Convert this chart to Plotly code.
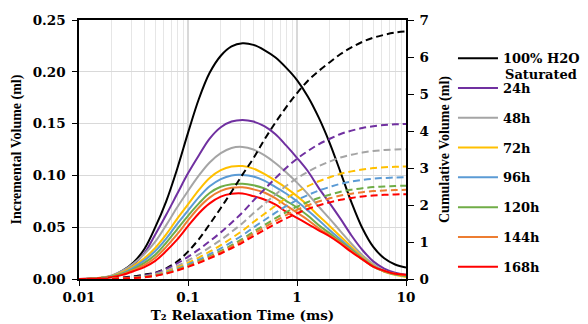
import plotly.graph_objects as go

# T2 relaxation time (ms)
t2 = [0.01, 0.0126, 0.0158, 0.02, 0.0251, 0.0316, 0.0398, 0.0501, 0.0631, 0.0794,
      0.1, 0.126, 0.158, 0.2, 0.251, 0.316, 0.398, 0.501, 0.631, 0.794,
      1, 1.26, 1.58, 2, 2.51, 3.16, 3.98, 5.01, 6.31, 7.94, 10]

names = ["100% H2O", "24h", "48h", "72h", "96h", "120h", "144h", "168h"]
colors = ["#000000", "#7030A0", "#A5A5A5", "#FFC000", "#5B9BD5", "#70AD47", "#ED7D31", "#FF0000"]

# Incremental volume (ml)
inc_sat = [0, 0.0003, 0.001, 0.003, 0.008, 0.016, 0.029, 0.050, 0.075, 0.106,
           0.141, 0.174, 0.199, 0.2155, 0.2245, 0.2275, 0.226, 0.221, 0.214, 0.204,
           0.192, 0.176, 0.156, 0.131, 0.103, 0.074, 0.049, 0.031, 0.020, 0.014, 0.011]
inc_24 = [0, 0.0002, 0.0008, 0.0025, 0.0065, 0.014, 0.025, 0.043, 0.062, 0.082,
          0.102, 0.1195, 0.1355, 0.1465, 0.152, 0.1535, 0.152, 0.1475, 0.140, 0.129,
          0.117, 0.104, 0.088, 0.073, 0.058, 0.042, 0.028, 0.017, 0.010, 0.006, 0.004]
inc_48 = [0, 0.0002, 0.0012, 0.0035, 0.008, 0.015, 0.024, 0.036, 0.052, 0.069,
          0.085, 0.100, 0.1125, 0.1215, 0.1265, 0.1275, 0.125, 0.1195, 0.112, 0.103,
          0.093, 0.082, 0.070, 0.058, 0.046, 0.034, 0.023, 0.0145, 0.008, 0.0045, 0.003]
inc_72 = [0, 0.0002, 0.0011, 0.003, 0.0065, 0.0125, 0.020, 0.030, 0.043, 0.058,
          0.072, 0.086, 0.0975, 0.105, 0.1085, 0.109, 0.1065, 0.1015, 0.095, 0.088,
          0.080, 0.071, 0.061, 0.051, 0.041, 0.031, 0.021, 0.013, 0.007, 0.004, 0.002]
inc_96 = [0, 0.0002, 0.001, 0.0026, 0.0057, 0.011, 0.018, 0.027, 0.039, 0.053,
          0.066, 0.079, 0.0895, 0.0965, 0.100, 0.1005, 0.099, 0.095, 0.089, 0.0825,
          0.075, 0.066, 0.057, 0.047, 0.038, 0.029, 0.020, 0.0125, 0.0075, 0.0045, 0.003]
inc_120 = [0, 0.0002, 0.0009, 0.0023, 0.005, 0.0095, 0.0155, 0.0235, 0.035, 0.048,
           0.061, 0.073, 0.083, 0.089, 0.0915, 0.092, 0.0905, 0.0875, 0.082, 0.0755,
           0.069, 0.061, 0.052, 0.044, 0.036, 0.028, 0.0195, 0.012, 0.0075, 0.0045, 0.003]
inc_144 = [0, 0.0002, 0.0008, 0.002, 0.0045, 0.0085, 0.0135, 0.0205, 0.031, 0.043,
           0.0565, 0.069, 0.0785, 0.085, 0.088, 0.0885, 0.0865, 0.0835, 0.078, 0.071,
           0.064, 0.057, 0.049, 0.042, 0.035, 0.027, 0.019, 0.012, 0.0075, 0.005, 0.0035]
inc_168 = [0, 0.0002, 0.0007, 0.0018, 0.004, 0.0075, 0.0115, 0.0175, 0.027, 0.038,
           0.051, 0.0635, 0.073, 0.0795, 0.0822, 0.0825, 0.080, 0.0768, 0.072, 0.065,
           0.059, 0.053, 0.047, 0.041, 0.034, 0.026, 0.019, 0.012, 0.008, 0.005, 0.004]

# Cumulative volume (ml)
cum_sat = [0, 0, 0.01, 0.02, 0.04, 0.07, 0.12, 0.17, 0.29, 0.47,
           0.74, 1.08, 1.48, 1.92, 2.36, 2.82, 3.26, 3.76, 4.22, 4.64,
           5.02, 5.36, 5.62, 5.86, 6.08, 6.26, 6.41, 6.52, 6.60, 6.66, 6.69]
cum_24 = [0, 0.003, 0.008, 0.016, 0.03, 0.05, 0.09, 0.16, 0.27, 0.42,
          0.60, 0.80, 1.02, 1.26, 1.52, 1.80, 2.12, 2.42, 2.72, 3.00,
          3.25, 3.46, 3.64, 3.79, 3.92, 4.01, 4.08, 4.13, 4.16, 4.18, 4.19]
cum_48 = [0, 0.002, 0.007, 0.013, 0.025, 0.042, 0.075, 0.134, 0.226, 0.352,
          0.503, 0.670, 0.854, 1.055, 1.273, 1.508, 1.776, 2.027, 2.279, 2.513,
          2.723, 2.899, 3.049, 3.175, 3.284, 3.359, 3.418, 3.460, 3.485, 3.502, 3.51]
cum_72 = [0, 0.002, 0.006, 0.012, 0.022, 0.036, 0.065, 0.116, 0.196, 0.305,
          0.435, 0.580, 0.740, 0.914, 1.103, 1.306, 1.538, 1.756, 1.974, 2.177,
          2.358, 2.510, 2.641, 2.750, 2.844, 2.909, 2.960, 2.997, 3.018, 3.033, 3.04]
cum_96 = [0, 0.002, 0.005, 0.010, 0.020, 0.033, 0.059, 0.105, 0.177, 0.276,
          0.394, 0.525, 0.669, 0.827, 0.998, 1.181, 1.392, 1.588, 1.785, 1.969,
          2.133, 2.271, 2.389, 2.487, 2.573, 2.632, 2.678, 2.711, 2.730, 2.743, 2.75]
cum_120 = [0, 0.002, 0.005, 0.010, 0.018, 0.030, 0.054, 0.096, 0.162, 0.253,
           0.361, 0.481, 0.613, 0.758, 0.914, 1.083, 1.275, 1.456, 1.636, 1.804,
           1.955, 2.081, 2.189, 2.279, 2.358, 2.412, 2.454, 2.484, 2.502, 2.514, 2.52]
cum_144 = [0, 0.002, 0.005, 0.009, 0.017, 0.029, 0.052, 0.092, 0.155, 0.241,
           0.345, 0.460, 0.587, 0.725, 0.874, 1.035, 1.219, 1.392, 1.565, 1.726,
           1.869, 1.990, 2.094, 2.180, 2.255, 2.306, 2.347, 2.376, 2.393, 2.404, 2.41]
cum_168 = [0, 0.002, 0.004, 0.009, 0.016, 0.027, 0.049, 0.087, 0.147, 0.229,
           0.328, 0.437, 0.557, 0.689, 0.831, 0.984, 1.159, 1.323, 1.487, 1.640,
           1.776, 1.891, 1.989, 2.071, 2.143, 2.192, 2.230, 2.257, 2.274, 2.285, 2.29]

incs = [inc_sat, inc_24, inc_48, inc_72, inc_96, inc_120, inc_144, inc_168]
cums = [cum_sat, cum_24, cum_48, cum_72, cum_96, cum_120, cum_144, cum_168]

SERIF_H = "DejaVu Serif"
SERIF_V = "Liberation Serif"

fig = go.Figure()
for nm, c, y in zip(names, colors, incs):
    fig.add_trace(go.Scatter(x=t2, y=y, mode="lines", name=nm, legendgroup=nm,
                             line=dict(color=c, width=2, shape="spline")))
for nm, c, y in zip(names, colors, cums):
    fig.add_trace(go.Scatter(x=t2, y=y, mode="lines", name=nm + " cumulative",
                             showlegend=False, yaxis="y2",
                             line=dict(color=c, width=2, dash="7px,4px", shape="spline")))

tickfont = dict(family=SERIF_H, size=13.5, color="#000000", weight="bold")

# page body has an 8px margin, so the figure is 8px smaller than the window
fig.update_layout(
    width=580, height=316,
    margin=dict(l=71, r=182, t=12, b=45, autoexpand=False),
    paper_bgcolor="white", plot_bgcolor="white",
    showlegend=True,
    legend=dict(xref="container", yref="container", x=0.7672, xanchor="left",
                y=0.8886, yanchor="top", maxheight=300,
                font=dict(family=SERIF_H, size=13, color="#000000", weight="bold"),
                tracegroupgap=9.9, itemwidth=40, bgcolor="rgba(0,0,0,0)"),
    xaxis=dict(type="log", range=[-2, 1], automargin=False,
               tickvals=[0.01, 0.1, 1, 10], ticktext=["0.01", "0.1", "1", "10"],
               ticks="outside", ticklen=5, tickcolor="#000000",
               showline=True, linecolor="#000000", linewidth=1.5, mirror=True,
               showgrid=True, gridcolor="#d9d9d9", gridwidth=1.5,
               minor=dict(dtick="D1", showgrid=True, gridcolor="#e6e6e6", gridwidth=1, ticks=""),
               tickfont=tickfont, zeroline=False,
               title=dict(text="T₂ Relaxation Time (ms)", standoff=7,
                          font=dict(family=SERIF_H, size=13.5, color="#000000", weight="bold"))),
    yaxis=dict(range=[0, 0.25], dtick=0.05, tickformat=".2f", automargin=False,
               ticks="outside", ticklen=5, tickcolor="#000000", ticklabelstandoff=4,
               showline=True, linecolor="#000000", linewidth=1.5,
               showgrid=True, gridcolor="#d9d9d9", gridwidth=1,
               tickfont=tickfont, zeroline=False,
               title=dict(text="Incremental Volume (ml)", standoff=8,
                          font=dict(family=SERIF_V, size=14, color="#000000", weight="bold"))),
    yaxis2=dict(range=[0, 7], dtick=1, overlaying="y", side="right", automargin=False,
                ticks="outside", ticklen=6, tickcolor="#000000", ticklabelstandoff=3,
                showline=True, linecolor="#000000", linewidth=1.5,
                showgrid=False, tickfont=tickfont, zeroline=False,
                title=dict(text="Cumulative Volume (ml)", standoff=25,
                           font=dict(family=SERIF_V, size=14, color="#000000", weight="bold"))),
    annotations=[dict(text="Saturated", xref="paper", yref="paper", x=1.2966, y=0.7877,
                      xanchor="left", yanchor="middle", showarrow=False,
                      font=dict(family=SERIF_H, size=13, color="#000000", weight="bold"))],
)

fig.write_html("out.html")
